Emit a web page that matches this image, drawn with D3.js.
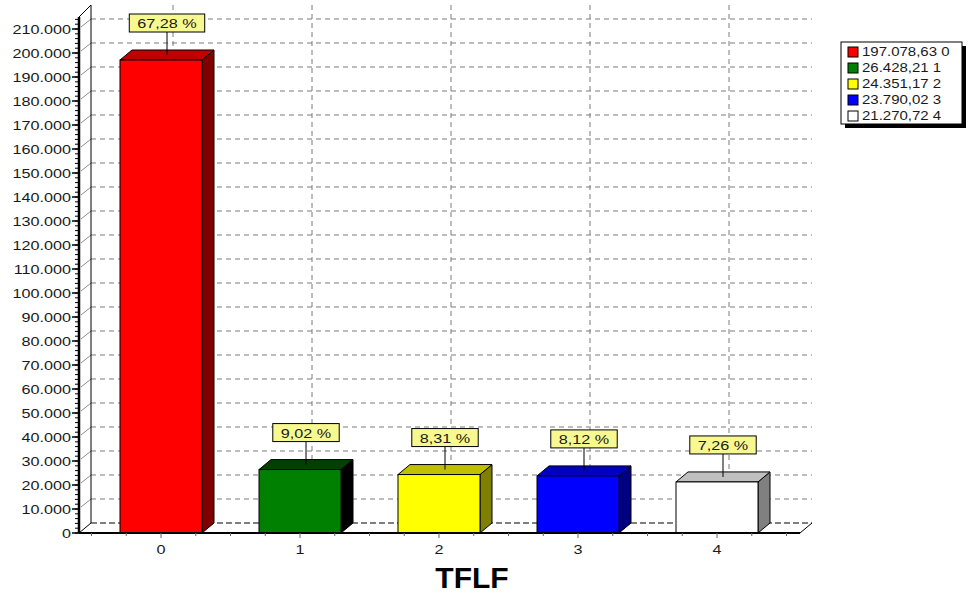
<!DOCTYPE html>
<html>
<head>
<meta charset="utf-8">
<script src="https://cdn.jsdelivr.net/npm/d3@7/dist/d3.min.js"></script>
<style>
  html, body { margin: 0; padding: 0; background: #ffffff; }
  svg { display: block; font-family: "Liberation Sans", Arial, sans-serif; }
</style>
</head>
<body>
<svg id="chart" width="972" height="595"></svg>
<script>
// ---- data ----
const categories = ["0", "1", "2", "3", "4"];
const values = [197078.63, 26428.21, 24351.17, 23790.02, 21270.72];
const frontColors = ["#ff0000", "#008000", "#ffff00", "#0000ff", "#ffffff"];
const topColors   = ["#c00000", "#004000", "#c0c000", "#0000c0", "#c0c0c0"];
const sideColors  = ["#800000", "#000000", "#808000", "#000080", "#808080"];
const yTickValues = d3.range(0, 210001, 10000);
const chartTitle = "TFLF";

// ---- formatting (German style separators) ----
const locale = d3.formatLocale({ decimal: ",", thousands: ".", grouping: [3], currency: ["", "€"] });
const fmtInt = locale.format(",d");
const fmt2 = locale.format(",.2f");
const fmtPct = v => locale.format(".2f")(v) + " %";
const total = d3.sum(values);

// ---- layout ----
const W = 972, H = 595;
const x0 = 79, x1 = 800;          // front floor extent
const dx = 12, dy = -10;          // 3D depth offset
const barW = 82;
const stretch = 1.2;              // horizontal stretch of the small text

const svg = d3.select("#chart");
svg.append("rect").attr("width", W).attr("height", H).attr("fill", "#fff");

const y = d3.scaleLinear().domain([0, 210000]).range([533, 29]);
const x = d3.scalePoint().domain(categories).range([91.5, 786.5]).padding(0.5);
const y0 = y(0);

// text helper: horizontally stretched label
function sText(parent, tx, ty, str, size, anchor, weight) {
  const g = parent.append("g").attr("transform", `translate(${tx},${ty}) scale(${stretch},1)`);
  return g.append("text")
    .attr("text-anchor", anchor || "start")
    .attr("dominant-baseline", "central")
    .attr("font-size", size)
    .attr("font-weight", weight || "normal")
    .attr("fill", "#1a1a1a")
    .text(str);
}

// ---- back wall: grid ----
const grid = svg.append("g");
const topBack = 5;
// horizontal dashed grid lines
grid.selectAll("line.h").data(yTickValues.filter(v => v > 0)).join("line")
  .attr("x1", x0 + dx).attr("x2", x1 + dx)
  .attr("y1", d => y(d) + dy).attr("y2", d => y(d) + dy)
  .attr("stroke", "#7a7a7a").attr("stroke-width", 1).attr("stroke-dasharray", "5,4");
// short diagonals from front axis to back wall
grid.selectAll("line.d").data(yTickValues.filter(v => v > 0)).join("line")
  .attr("x1", x0 + 2).attr("x2", x0 + dx)
  .attr("y1", d => y(d) - 2).attr("y2", d => y(d) + dy)
  .attr("stroke", "#909090").attr("stroke-width", 1);
// vertical dashed grid lines
grid.selectAll("line.v").data(categories).join("line")
  .attr("x1", d => x(d) + dx).attr("x2", d => x(d) + dx)
  .attr("y1", topBack).attr("y2", y0 + dy)
  .attr("stroke", "#7a7a7a").attr("stroke-width", 1).attr("stroke-dasharray", "5,4");
// back wall left edge
grid.append("line").attr("x1", x0 + dx).attr("x2", x0 + dx)
  .attr("y1", topBack).attr("y2", y0 + dy).attr("stroke", "#000").attr("stroke-width", 1);
// floor back edge
grid.append("line").attr("x1", x0 + dx).attr("x2", x1 + dx)
  .attr("y1", y0 + dy).attr("y2", y0 + dy)
  .attr("stroke", "#000").attr("stroke-width", 1).attr("stroke-dasharray", "6,3");
// floor side edges
grid.append("line").attr("x1", x0).attr("y1", y0).attr("x2", x0 + dx).attr("y2", y0 + dy)
  .attr("stroke", "#000").attr("stroke-width", 1);
grid.append("line").attr("x1", x1).attr("y1", y0).attr("x2", x1 + dx).attr("y2", y0 + dy)
  .attr("stroke", "#000").attr("stroke-width", 1);
// top of the axis wall
grid.append("line").attr("x1", x0).attr("y1", 17).attr("x2", x0 + dx).attr("y2", topBack)
  .attr("stroke", "#000").attr("stroke-width", 1);

// ---- bars ----
const bars = svg.append("g").selectAll("g").data(values).join("g");
bars.each(function (v, i) {
  const g = d3.select(this);
  const cx = x(categories[i]);
  const L = cx - barW / 2, R = cx + barW / 2, T = y(v), B = y0;
  // side face
  g.append("path")
    .attr("d", `M${R},${B} L${R + dx},${B + dy} L${R + dx},${T + dy} L${R},${T} Z`)
    .attr("fill", sideColors[i]).attr("stroke", "#000").attr("stroke-width", 1).attr("stroke-linejoin", "round");
  // top face
  g.append("path")
    .attr("d", `M${L},${T} L${L + dx},${T + dy} L${R + dx},${T + dy} L${R},${T} Z`)
    .attr("fill", topColors[i]).attr("stroke", "#000").attr("stroke-width", 1).attr("stroke-linejoin", "round");
  // front face
  g.append("rect")
    .attr("x", L).attr("y", T).attr("width", barW).attr("height", B - T)
    .attr("fill", frontColors[i]).attr("stroke", "#000").attr("stroke-width", 1);
});

// ---- front axis ----
const ax = svg.append("g");
ax.append("line").attr("x1", x0).attr("x2", x0).attr("y1", 17).attr("y2", y0)
  .attr("stroke", "#000").attr("stroke-width", 2.5);
ax.append("line").attr("x1", x0).attr("x2", x1).attr("y1", y0).attr("y2", y0)
  .attr("stroke", "#000").attr("stroke-width", 2);
// y minor ticks
ax.selectAll("line.ym").data(d3.range(0, 214001, 2000)).join("line")
  .attr("x1", x0 - 4).attr("x2", x0)
  .attr("y1", d => y(d)).attr("y2", d => y(d))
  .attr("stroke", "#000").attr("stroke-width", 1);
// y major ticks + labels
ax.selectAll("line.yM").data(yTickValues).join("line")
  .attr("x1", x0 - 7).attr("x2", x0)
  .attr("y1", d => y(d)).attr("y2", d => y(d))
  .attr("stroke", "#000").attr("stroke-width", 1.5);
yTickValues.forEach(v => sText(ax, x0 - 8, y(v), fmtInt(v), 13.5, "end"));

// x ticks
const step = x.step();
categories.forEach(c => {
  const cx = x(c);
  [-2, -1, 1, 2].forEach(k => {
    ax.append("line").attr("x1", cx + k * step / 4).attr("x2", cx + k * step / 4)
      .attr("y1", y0).attr("y2", y0 + 3).attr("stroke", "#666").attr("stroke-width", 1);
  });
  ax.append("line").attr("x1", cx).attr("x2", cx).attr("y1", y0).attr("y2", y0 + 5)
    .attr("stroke", "#666").attr("stroke-width", 1);
  sText(ax, cx, 549, c, 13.5, "middle");
});

// ---- value labels ----
const lbl = svg.append("g");
values.forEach((v, i) => {
  const cx = x(categories[i]) + dx / 2;
  const topMid = y(v) + dy / 2;
  const boxBottom = topMid - 23;
  const boxH = 18;
  const g = lbl.append("g");
  g.append("line").attr("x1", cx).attr("x2", cx).attr("y1", boxBottom).attr("y2", topMid)
    .attr("stroke", "#000").attr("stroke-width", 1);
  const rect = g.append("rect");
  const t = sText(g, cx, boxBottom - boxH / 2 + 0.5, fmtPct(v / total * 100), 13.5, "middle");
  const w = t.node().getComputedTextLength() * stretch + 16;
  rect.attr("x", cx - w / 2).attr("y", boxBottom - boxH).attr("width", w).attr("height", boxH)
    .attr("fill", "#f8f890").attr("stroke", "#000").attr("stroke-width", 1);
});

// ---- legend ----
const leg = svg.append("g");
const lx = 841, ly = 42, lw = 121, lh = 82;
leg.append("rect").attr("x", lx + 4).attr("y", ly + 4).attr("width", lw).attr("height", lh).attr("fill", "#000");
leg.append("rect").attr("x", lx).attr("y", ly).attr("width", lw).attr("height", lh)
  .attr("fill", "#fff").attr("stroke", "#000").attr("stroke-width", 1);
values.forEach((v, i) => {
  const ry = ly + 10 + i * 16;
  leg.append("rect").attr("x", lx + 7).attr("y", ry - 5).attr("width", 10).attr("height", 10)
    .attr("fill", frontColors[i]).attr("stroke", "#000").attr("stroke-width", 1);
  sText(leg, lx + 21, ry, fmt2(v) + " " + categories[i], 12.5, "start");
});

// ---- title ----
svg.append("text").attr("x", 472).attr("y", 588)
  .attr("text-anchor", "middle").attr("font-size", 30).attr("font-weight", "bold")
  .attr("fill", "#000").text(chartTitle);
</script>
</body>
</html>
